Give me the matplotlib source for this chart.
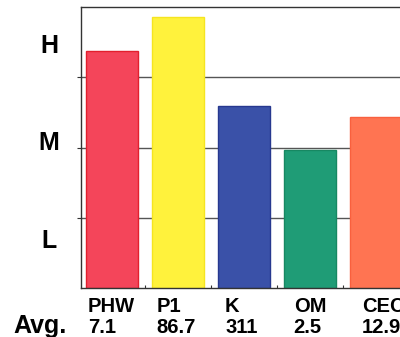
import matplotlib
matplotlib.use("Agg")
import matplotlib.pyplot as plt

categories = ["PHW", "P1", "K", "OM", "CEC"]
averages = ["7.1", "86.7", "311", "2.5", "12.9"]
levels = [3.37, 3.86, 2.59, 1.97, 2.43]
level_labels = ["L", "M", "H"]
level_label_pos = [0.67, 2.07, 3.44]
colors = ["#F4455A", "#FFF23C", "#3A51A8", "#1F9C76", "#FF7452"]
edges = ["#E2202E", "#F5E520", "#27388F", "#178862", "#F9603E"]

W, H = 400, 337
fig = plt.figure(figsize=(W / 100, H / 100), dpi=100)
left, right, top, bottom = 81, 400, 7, 288
ax = fig.add_axes([left / W, 1 - bottom / H, (right - left) / W, (bottom - top) / H])

x = list(range(len(categories)))
ax.set_xlim(-0.47, 4.36)
ax.set_ylim(0, 4.0)

for yv in [1, 2, 3]:
    ax.axhline(yv, color="#555555", lw=1.0, zorder=1)

ax.bar(x, levels, width=0.79, color=colors, edgecolor=edges, linewidth=1.0, zorder=2)

ax.spines["right"].set_visible(False)
for s in ["left", "bottom", "top"]:
    ax.spines[s].set_color("#333333")
    ax.spines[s].set_linewidth(1.0)

ax.set_yticks([1, 2, 3])
ax.set_yticklabels([])
ax.tick_params(axis="y", direction="out", length=3, color="#333333")
ax.set_xticks([0.5, 1.5, 2.5, 3.5])
ax.set_xticklabels([])
ax.tick_params(axis="x", direction="in", length=2, color="#333333")

for lbl, yp in zip(level_labels, level_label_pos):
    ax.text(-0.47 - 32 / 66, yp, lbl, ha="center", va="center",
            fontsize=18, fontweight="bold", family="Liberation Sans")

for i, (c, a) in enumerate(zip(categories, averages)):
    xp = i * 1.038 - 0.364
    ax.text(xp, -0.343, c, ha="left", va="baseline", fontsize=14.5,
            fontweight="bold", family="Liberation Sans")
    ax.text(xp, -0.643, a, ha="left", va="baseline", fontsize=14.5,
            fontweight="bold", family="Liberation Sans")

fig.text(13 / W, 1 - 333 / H, "Avg.", ha="left", va="baseline", fontsize=18,
         fontweight="bold", family="Liberation Sans")

fig.savefig("out.png", dpi=100)
